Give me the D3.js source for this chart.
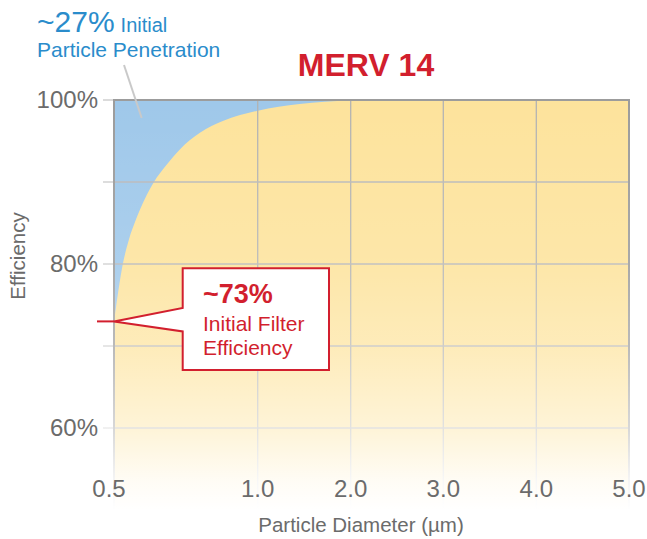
<!DOCTYPE html>
<html>
<head>
<meta charset="utf-8">
<script src="https://cdn.jsdelivr.net/npm/d3@7"></script>
<style>
  body { margin: 0; background: #fff; }
  svg { display: block; font-family: "Liberation Sans", Arial, sans-serif; }
</style>
</head>
<body>
<div class="chart"></div>
<script>
// efficiency curve (particle diameter in µm, efficiency %)
var diameters = [0.5, 0.51, 0.528, 0.552, 0.577, 0.608, 0.639, 0.681, 0.73, 0.799, 0.883, 1.0, 1.45, 1.99, 3.0, 4.0, 5.0];
var efficiency = [73, 75.5, 79.5, 83, 85.5, 88, 90, 92, 94, 96, 97.5, 98.7, 99.5, 99.9, 100, 100, 100];

var xTicks = [0.5, 1.0, 2.0, 3.0, 4.0, 5.0];
var yTicks = [60, 70, 80, 90, 100];
var yLabels = [60, 80, 100];

var width = 647, height = 539;

var svg = d3.select(".chart")
  .append("svg")
  .attr("width", width)
  .attr("height", height);

// x axis is stretched between 0.5 and 1.0, even after that
var x = d3.scaleLinear()
  .domain(xTicks)
  .range([114, 257.7, 350.7, 443.3, 536.3, 629]);

var y = d3.scaleLinear()
  .domain([50, 100])
  .range([510, 100]);

var data = diameters.map(function(d, i) { return { d: d, e: efficiency[i] }; });

var defs = svg.append("defs");
var fade = defs.append("linearGradient")
  .attr("id", "fade")
  .attr("gradientUnits", "userSpaceOnUse")
  .attr("x1", 0).attr("x2", 0)
  .attr("y1", y(100)).attr("y2", y(50));
[[0, 0], [0.4, 0.13], [0.6, 0.3], [0.8, 0.6], [0.93, 0.9], [1, 1]].forEach(function(s) {
  fade.append("stop").attr("offset", s[0]).attr("stop-color", "#fff").attr("stop-opacity", s[1]);
});

// yellow background
svg.append("rect")
  .attr("x", x(0.5)).attr("y", y(100))
  .attr("width", x(5) - x(0.5)).attr("height", y(50) - y(100))
  .attr("fill", "#fde39c");

// blue = penetration above the curve
var area = d3.area()
  .x(function(d) { return x(d.d); })
  .y0(y(100))
  .y1(function(d) { return y(d.e); })
  .curve(d3.curveMonotoneX);

svg.append("path")
  .datum(data)
  .attr("d", area)
  .attr("fill", "#9fc8ea");

// grid
svg.selectAll(".vgrid")
  .data(xTicks.slice(1, -1))
  .enter().append("line")
  .attr("x1", function(d) { return x(d); })
  .attr("x2", function(d) { return x(d); })
  .attr("y1", y(100)).attr("y2", y(50))
  .attr("stroke", "#b3b3b3").attr("stroke-width", 1.3);

svg.selectAll(".hgrid")
  .data(yTicks.slice(0, -1))
  .enter().append("line")
  .attr("x1", x(0.5)).attr("x2", x(5))
  .attr("y1", function(d) { return y(d); })
  .attr("y2", function(d) { return y(d); })
  .attr("stroke", "#b9b9b9").attr("stroke-width", 1.3);

// left tick marks
svg.selectAll(".ytick")
  .data(yTicks)
  .enter().append("line")
  .attr("x1", x(0.5) - 11).attr("x2", x(0.5))
  .attr("y1", function(d) { return y(d); })
  .attr("y2", function(d) { return y(d); })
  .attr("stroke", "#cfcfcf").attr("stroke-width", 1.5);

// frame
svg.append("path")
  .attr("d", "M" + x(0.5) + "," + y(50) + "V" + y(100) + "H" + x(5) + "V" + y(50))
  .attr("fill", "none")
  .attr("stroke", "#9c9c9c")
  .attr("stroke-width", 2);

// fade everything to white towards the bottom
svg.append("rect")
  .attr("x", x(0.5) - 14).attr("y", y(100))
  .attr("width", x(5) - x(0.5) + 16).attr("height", y(50) - y(100) + 4)
  .attr("fill", "url(#fade)");

// axis labels
svg.selectAll(".ylab")
  .data(yLabels)
  .enter().append("text")
  .attr("x", 98)
  .attr("y", function(d) { return y(d); })
  .attr("dy", "0.35em")
  .attr("text-anchor", "end")
  .attr("font-size", 24)
  .attr("fill", "#6b6b6b")
  .text(function(d) { return d + "%"; });

svg.selectAll(".xlab")
  .data(xTicks)
  .enter().append("text")
  .attr("x", function(d, i) { return x(d) - (i === 0 ? 5 : 0); })
  .attr("y", 497)
  .attr("text-anchor", "middle")
  .attr("font-size", 24)
  .attr("fill", "#6b6b6b")
  .text(function(d) { return d3.format(".1f")(d); });

svg.append("text")
  .attr("x", 361).attr("y", 532)
  .attr("text-anchor", "middle")
  .attr("font-size", 20.5)
  .attr("fill", "#6b6b6b")
  .text("Particle Diameter (µm)");

svg.append("text")
  .attr("transform", "translate(25,256) rotate(-90)")
  .attr("text-anchor", "middle")
  .attr("font-size", 20.5)
  .attr("fill", "#6b6b6b")
  .text("Efficiency");

// title
svg.append("text")
  .attr("x", 366).attr("y", 76)
  .attr("text-anchor", "middle")
  .attr("font-size", 32)
  .attr("font-weight", "bold")
  .attr("fill", "#d21f2e")
  .text("MERV 14");

// penetration annotation
svg.append("line")
  .attr("x1", 124).attr("y1", 65)
  .attr("x2", 141.7).attr("y2", 118)
  .attr("stroke", "#c9c9c9").attr("stroke-width", 2);

var blueText = svg.append("text")
  .attr("x", 37).attr("y", 32)
  .attr("fill", "#2a8ccb");
blueText.append("tspan").attr("font-size", 30).text("~27%");
blueText.append("tspan").attr("font-size", 20).attr("dx", 6).text("Initial");

svg.append("text")
  .attr("x", 37).attr("y", 57)
  .attr("font-size", 21)
  .attr("fill", "#2a8ccb")
  .text("Particle Penetration");

// initial efficiency callout
var tipX = x(diameters[0]), tipY = y(efficiency[0]);

svg.append("line")
  .attr("x1", tipX - 17).attr("x2", tipX)
  .attr("y1", tipY).attr("y2", tipY)
  .attr("stroke", "#d21f2e").attr("stroke-width", 2);

svg.append("path")
  .attr("d", "M" + tipX + "," + tipY +
    "L182.7," + (tipY - 13.5) + "V268.3H329V370H182.7V" + (tipY + 10) + "Z")
  .attr("fill", "#fff")
  .attr("stroke", "#d21f2e")
  .attr("stroke-width", 2)
  .attr("stroke-linejoin", "miter");

svg.append("text")
  .attr("x", 203).attr("y", 303)
  .attr("font-size", 27)
  .attr("font-weight", "bold")
  .attr("fill", "#d21f2e")
  .text("~73%");

svg.append("text")
  .attr("x", 203).attr("y", 331)
  .attr("font-size", 21)
  .attr("fill", "#d21f2e")
  .text("Initial Filter");

svg.append("text")
  .attr("x", 203).attr("y", 355)
  .attr("font-size", 21)
  .attr("fill", "#d21f2e")
  .text("Efficiency");
</script>
</body>
</html>
